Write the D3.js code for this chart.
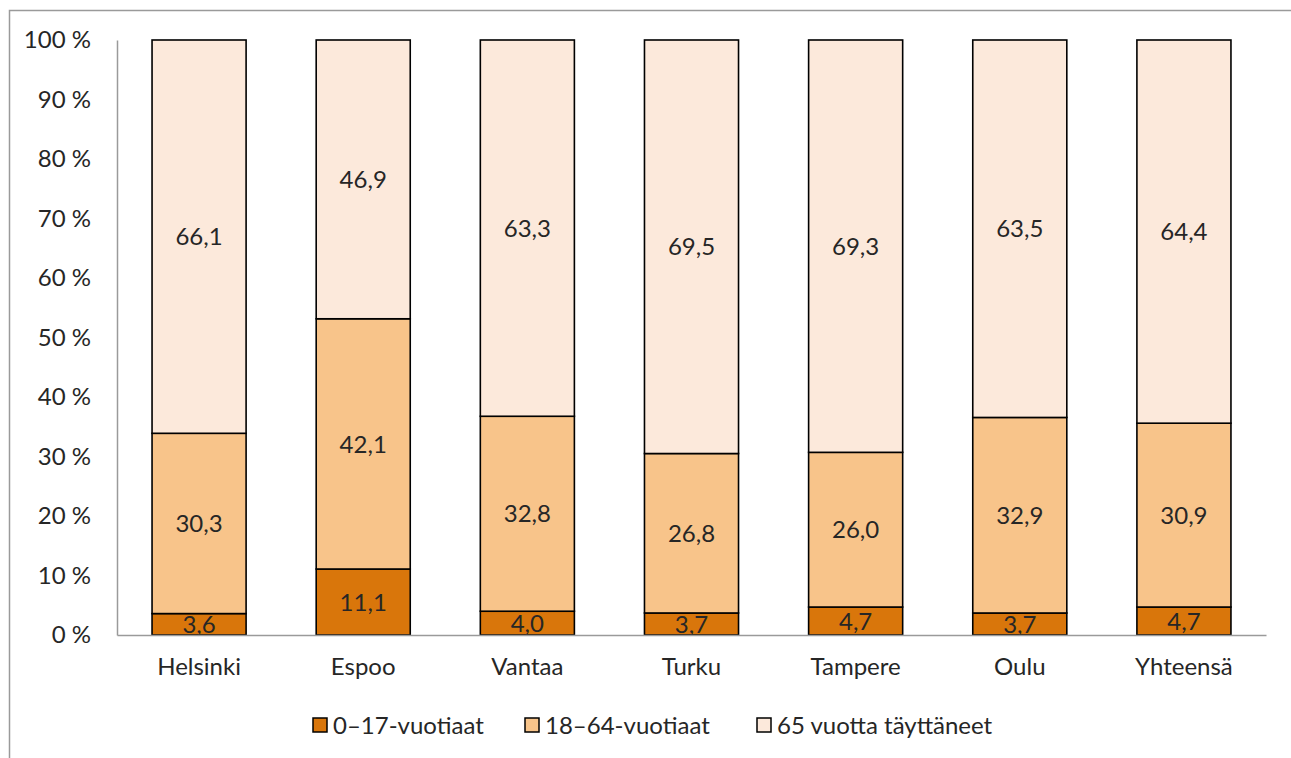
<!DOCTYPE html>
<html>
<head>
<meta charset="utf-8">
<script src="https://cdn.jsdelivr.net/npm/d3@7"></script>
<style>
  body { margin: 0; background: #fff; }
  text { font-family: Lato, "Open Sans", sans-serif; fill: #262626; }
</style>
</head>
<body>
<div id="chart"></div>
<script>
// data
var cities = ["Helsinki", "Espoo", "Vantaa", "Turku", "Tampere", "Oulu", "Yhteensä"];
var lapset = [3.6, 11.1, 4.0, 3.7, 4.7, 3.7, 4.7];
var tyoikaiset = [30.3, 42.1, 32.8, 26.8, 26.0, 32.9, 30.9];
var vanhukset = [66.1, 46.9, 63.3, 69.5, 69.3, 63.5, 64.4];
var seriesNames = ["0–17-vuotiaat", "18–64-vuotiaat", "65 vuotta täyttäneet"];
var yTicks = [0, 10, 20, 30, 40, 50, 60, 70, 80, 90, 100];

var colors = ["#D9760B", "#F8C48A", "#FCE9DB"];

var W = 1291, H = 758;
var margin = {top: 40, right: 25, bottom: 123, left: 117};
var width = W - margin.left - margin.right,
    height = H - margin.top - margin.bottom;

var svg = d3.select("#chart").append("svg")
    .attr("width", W).attr("height", H);

// cadre (seulement haut et gauche visibles)
svg.append("path")
    .attr("d", "M9.5," + H + " L9.5,10.5 L" + W + ",10.5")
    .attr("fill", "none")
    .attr("stroke", "#9a9a9a")
    .attr("stroke-width", 1.5);

var g = svg.append("g")
    .attr("transform", "translate(" + margin.left + "," + margin.top + ")");

var table = cities.map(function(c, i) {
    return {city: c, a: lapset[i], b: tyoikaiset[i], c: vanhukset[i]};
});

var stack = d3.stack().keys(["a", "b", "c"]).offset(d3.stackOffsetExpand);
var layers = stack(table);

var x = d3.scaleBand().domain(cities).range([0, width]).paddingInner(0.427).paddingOuter(0.2135);
var y = d3.scaleLinear().domain([0, 1]).range([height, 0]);

// barres
var layerG = g.selectAll(".layer").data(layers).enter().append("g")
    .attr("class", "layer")
    .attr("fill", function(d, i) { return colors[i]; });

layerG.selectAll("rect").data(function(d) { return d; }).enter().append("rect")
    .attr("x", function(d) { return x(d.data.city); })
    .attr("y", function(d) { return y(d[1]); })
    .attr("width", x.bandwidth())
    .attr("height", function(d) { return y(d[0]) - y(d[1]); })
    .attr("stroke", "#000")
    .attr("stroke-width", 1.6);

// étiquettes
layerG.selectAll("text").data(function(d) { return d.map(function(p) { p.key = d.key; return p; }); })
    .enter().append("text")
    .attr("x", function(d) { return x(d.data.city) + x.bandwidth() / 2; })
    .attr("y", function(d) { return (y(d[0]) + y(d[1])) / 2; })
    .attr("dy", "0.36em")
    .attr("text-anchor", "middle")
    .style("font-size", "24px")
    .text(function(d) { return d.data[d.key].toFixed(1).replace(".", ","); });

// axes
var yAxis = g.append("g")
    .call(d3.axisLeft(y).tickValues(yTicks.map(function(t) { return t / 100; }))
        .tickFormat(function(t) { return Math.round(t * 100) + " %"; })
        .tickSize(0).tickPadding(26));
yAxis.select(".domain").attr("stroke", "#9a9a9a").attr("stroke-width", 1.5);
yAxis.selectAll("text").style("font-size", "24px").attr("fill", "#262626");

var xAxis = g.append("g")
    .attr("transform", "translate(0," + height + ")")
    .call(d3.axisBottom(x).tickSize(0).tickPadding(23));
xAxis.select(".domain").attr("stroke", "#9a9a9a").attr("stroke-width", 1.5);
xAxis.selectAll("text").style("font-size", "24px").attr("fill", "#262626");

// légende
var legendX = [313, 525, 757];
var legend = svg.selectAll(".legend").data(seriesNames).enter().append("g")
    .attr("class", "legend")
    .attr("transform", function(d, i) { return "translate(" + legendX[i] + ",725)"; });
legend.append("rect")
    .attr("x", 0).attr("y", -7)
    .attr("width", 14).attr("height", 14)
    .attr("fill", function(d, i) { return colors[i]; })
    .attr("stroke", "#000")
    .attr("stroke-width", 1.5);
legend.append("text")
    .attr("x", 20).attr("dy", "0.36em")
    .style("font-size", "24px")
    .text(function(d) { return d; });
</script>
</body>
</html>
